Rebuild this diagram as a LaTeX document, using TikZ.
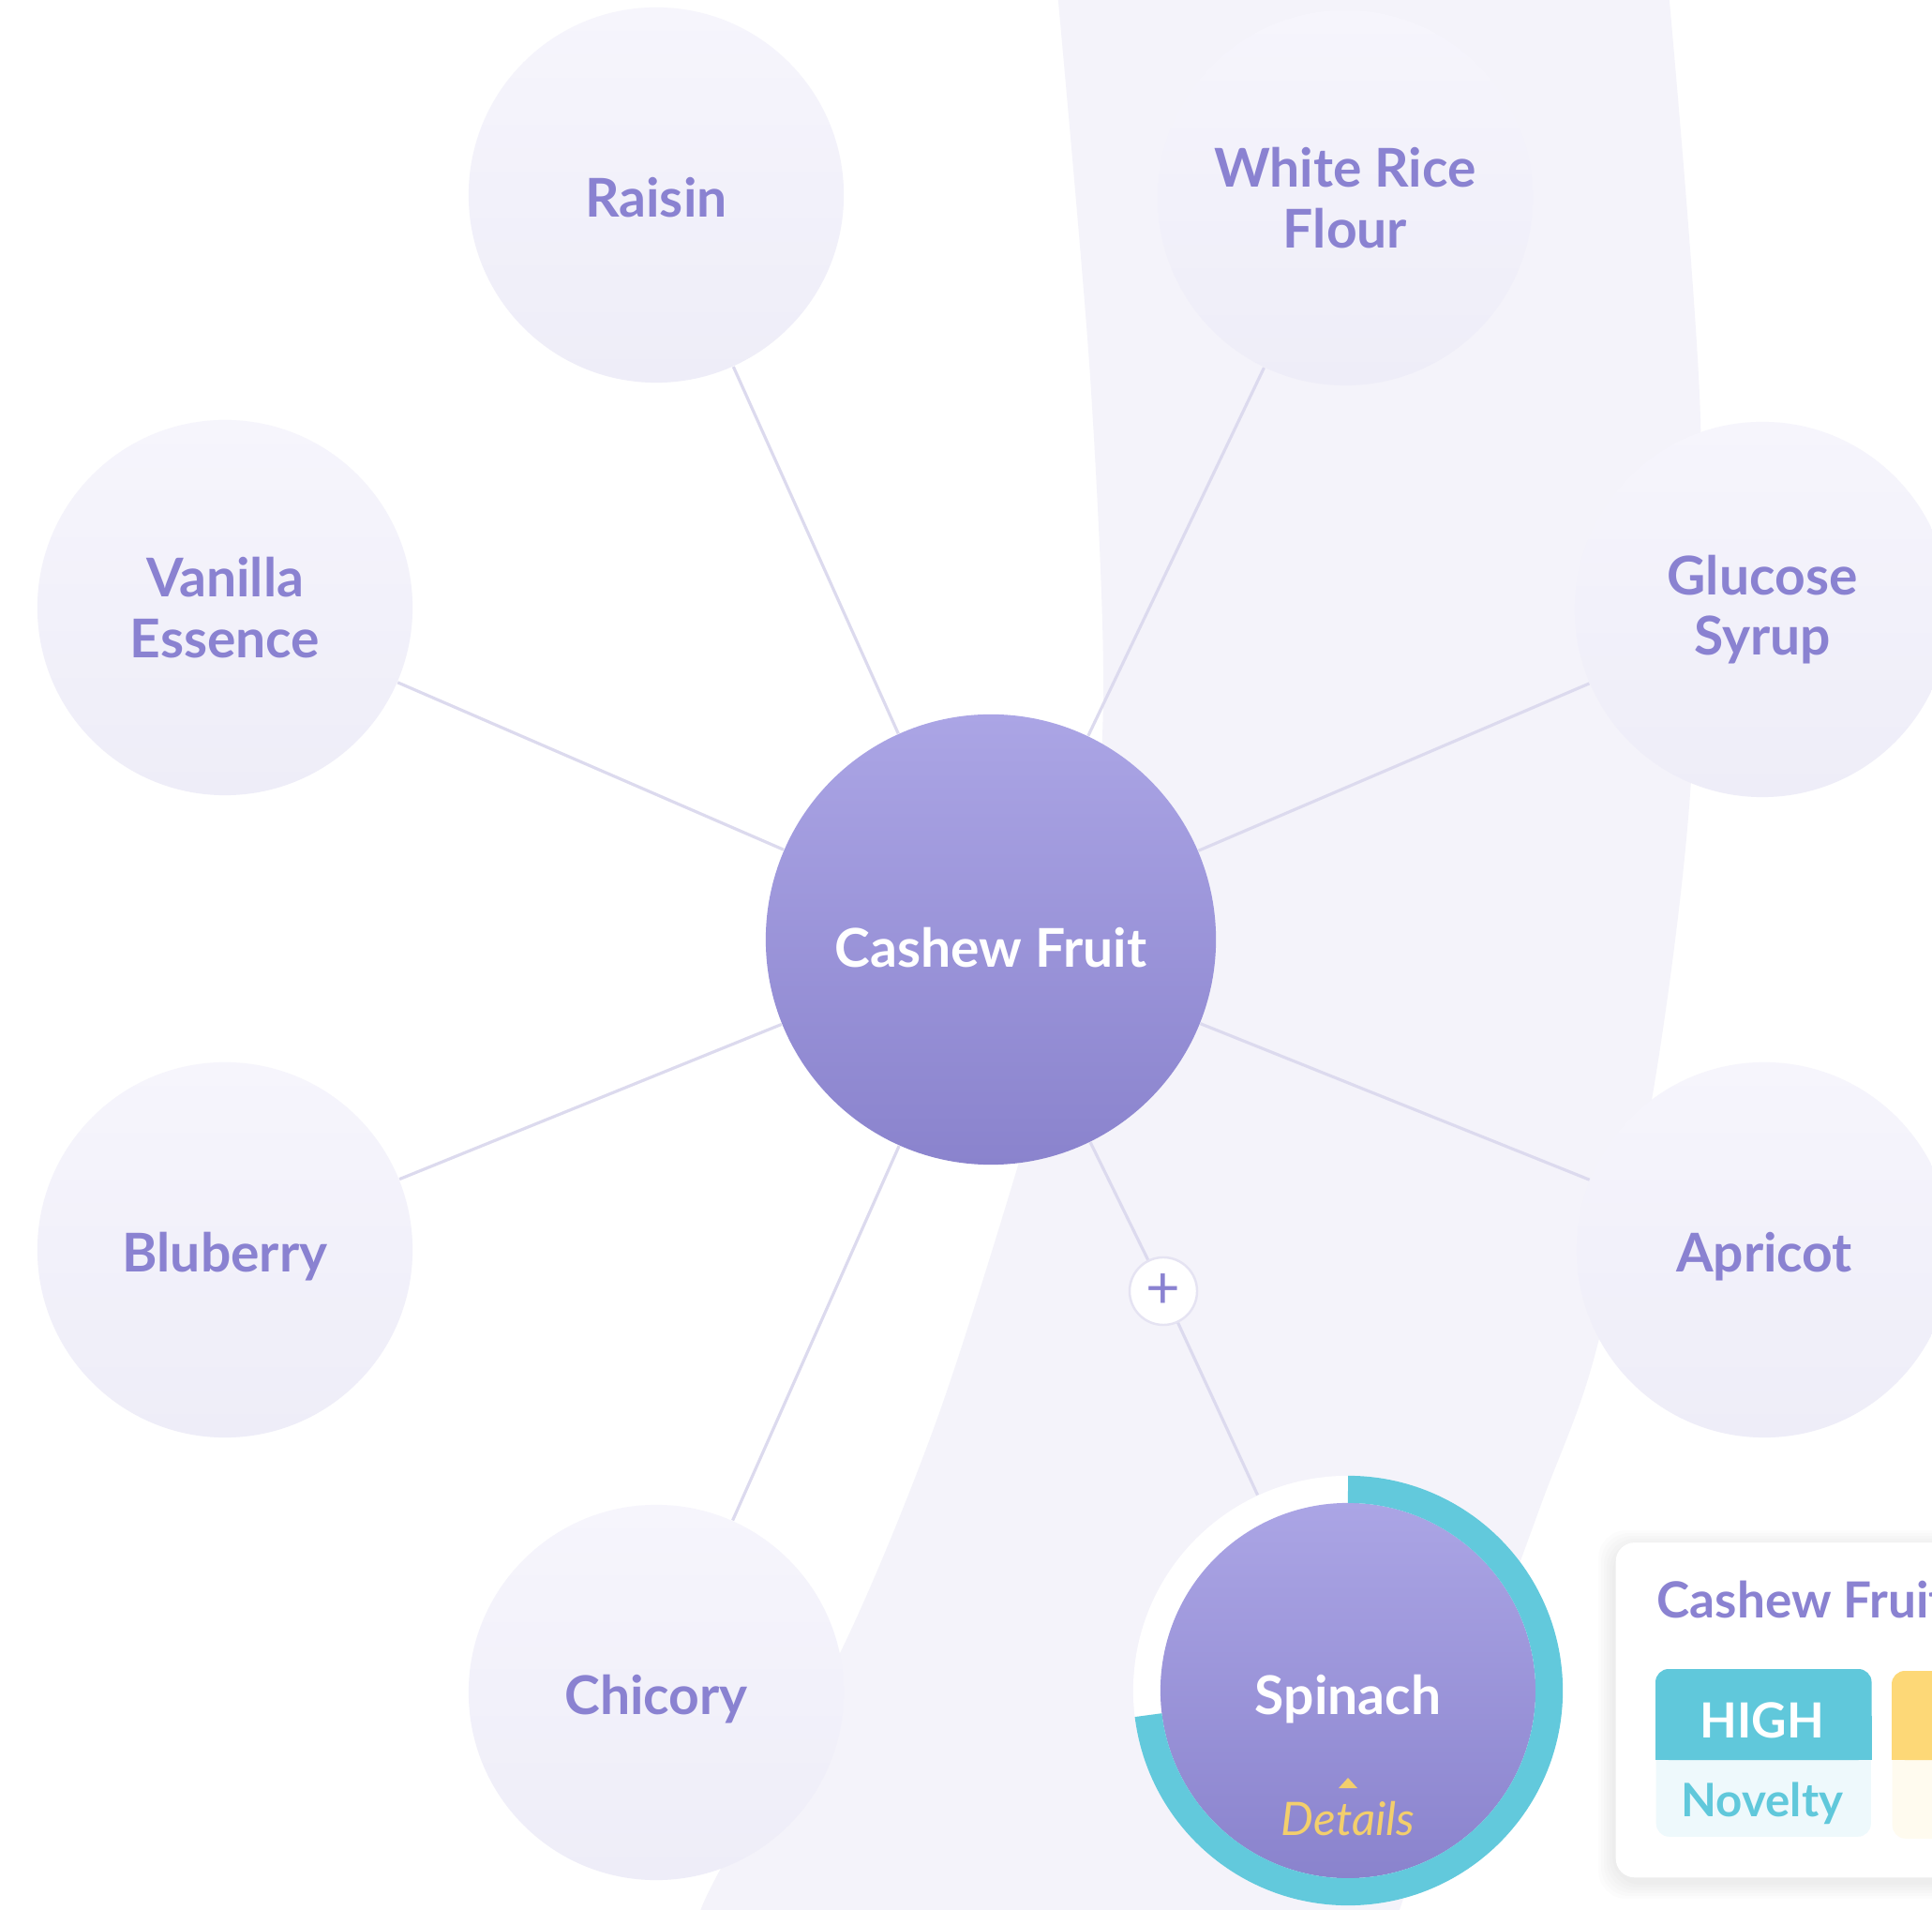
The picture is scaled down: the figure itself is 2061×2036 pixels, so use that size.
\documentclass[tikz,border=0pt]{standalone}
\usepackage{fontspec}
\setmainfont{Lato}
\usepackage{xcolor}
\usetikzlibrary{calc,positioning}
\definecolor{bandtint}{HTML}{F4F3FA}
\definecolor{bubbletop}{HTML}{F6F5FC}
\definecolor{bubblebot}{HTML}{EEEDF8}
\definecolor{inkpurple}{HTML}{8A82D1}
\definecolor{hubtop}{HTML}{ABA5E5}
\definecolor{hubbot}{HTML}{8A83CD}
\definecolor{spokeline}{HTML}{DCDAEE}
\definecolor{ringteal}{HTML}{62C9DC}
\definecolor{detailgold}{HTML}{F3CF6C}
\definecolor{tagteal}{HTML}{60C8DB}
\definecolor{tagtealpale}{HTML}{EEF9FC}
\definecolor{tagyellow}{HTML}{FDD877}
\definecolor{tagyellowpale}{HTML}{FFFBEF}
\definecolor{plusrim}{HTML}{E5E3F2}
\newcommand{\bubblefont}{\fontsize{16.2}{18.3}\selectfont\bfseries}
\tikzset{
  bubble/.style={circle,minimum size=4cm,inner sep=0pt,top color=bubbletop,bottom color=bubblebot,text=inkpurple,font=\bubblefont,align=center},
  oneline/.style={text height=13.4pt,text depth=0pt},
  hub/.style={circle,minimum size=4.8cm,inner sep=0pt,top color=hubtop,bottom color=hubbot,text=white,font=\bubblefont,text height=17pt,text depth=0pt},
  ringdisc/.style={circle,minimum size=4.58cm,inner sep=0pt,fill=white},
  spoke/.style={draw=spokeline,line width=.9pt},
  plusbtn/.style={circle,minimum size=.72cm,inner sep=0pt,fill=white,draw=plusrim,line width=.7pt,text=inkpurple,font=\fontsize{18}{18}\selectfont},
  tagbox/.style={minimum width=2.29cm,minimum height=1.78cm,inner sep=0pt,rounded corners=.14cm},
  tagword/.style={font=\fontsize{14.7}{16}\selectfont\bfseries,anchor=base,inner sep=0pt},
}

\begin{document}
\begin{tikzpicture}[x=.01cm,y=.01cm]
  \clip (0,0) rectangle (2061,2036);
  \fill[white] (0,0) rectangle (2061,2036);
  % curved band behind the map
  \fill[bandtint] plot[smooth] coordinates {(1128,2045) (1163,1634) (1177,1290) (1155,1041) (1086,793) (998,518) (899,279) (765,36) (745,-10)}
    -- plot[smooth] coordinates {(1490,-10) (1560,200) (1643,429) (1700,586) (1763,869) (1803,1190) (1814,1588) (1780,2045)} -- cycle;

  \node[hub] (cashew) at (1057,1034) {Cashew Fruit};
  \node[bubble,oneline] (raisin) at (700,1828) {Raisin};
  \node[bubble] (whiterice) at (1435,1825) {White Rice\\Flour};
  \node[bubble] (vanilla) at (240,1388) {Vanilla\\Essence};
  \node[bubble] (glucose) at (1880,1386) {Glucose\\Syrup};
  \node[bubble,oneline] (bluberry) at (240,703) {Bluberry};
  \node[bubble,oneline] (apricot) at (1882,703) {Apricot};
  \node[bubble,oneline] (chicory) at (700,231) {Chicory};
  \node[plusbtn] (plus) at (1241,659) {+};

  % selected ingredient with its ring
  \node[ringdisc] (spinach) at (1438,233) {};
  \shade[top color=hubtop,bottom color=hubbot] (spinach.center) circle[radius=2cm];
  \draw[ringteal,line width=.29cm] ([shift={(90:2.145cm)}]spinach.center) arc[start angle=90,end angle=-173,radius=2.145cm];
  \node[text=white,font=\bubblefont,anchor=base] (spinachname) at (1438,208) {Spinach};
  \node[text=detailgold,font=\fontsize{14}{16}\selectfont\itshape,anchor=base,inner sep=0pt] (details) at (1438,79) {Details};
  \fill[detailgold] ($(details.north)+(-10,13)$) -- ++(20,0) -- ++(-10,11) -- cycle;

  \foreach \leaf in {raisin,whiterice,vanilla,glucose,bluberry,apricot,chicory}
    \draw[spoke] (cashew) -- (\leaf);
  \draw[spoke] (cashew) -- (plus) -- (spinach);

  % info card, cut by the right edge
  \foreach \k in {1,...,6}
    \fill[black,opacity=.01,rounded corners=.3cm] (1723-3*\k,33-3*\k-4) rectangle (2130+3*\k,390+3*\k-4);
  \node[fill=white,rounded corners=.2cm,minimum width=4.07cm,minimum height=3.57cm,inner sep=0pt,anchor=south west] (infocard) at (1723,33) {};
  \node[text=inkpurple,font=\fontsize{15.1}{18}\selectfont\bfseries,anchor=base west,inner sep=0pt] (cardtitle) at (1767,311) {Cashew Fruit};

  \node[tagbox,fill=tagtealpale,anchor=north west] (noveltytag) at (1766,256) {};
  \fill[tagteal,rounded corners=.14cm] (noveltytag.north west) rectangle ($(noveltytag.north east)+(0,-97)$);
  \fill[tagteal] ($(noveltytag.north west)+(0,-50)$) rectangle ($(noveltytag.north east)+(0,-97)$);
  \node[tagword,text=white] (highword) at (1880,183) {HIGH};
  \node[tagword,text=tagteal,font=\fontsize{14}{16}\selectfont\bfseries] (noveltyword) at (1880,99) {Novelty};

  \node[tagbox,fill=tagyellowpale,anchor=north west] (secondtag) at (2018,254) {};
  \fill[tagyellow,rounded corners=.14cm] (secondtag.north west) rectangle ($(secondtag.north east)+(0,-95)$);
  \fill[tagyellow] ($(secondtag.north west)+(0,-50)$) rectangle ($(secondtag.north east)+(0,-95)$);
\end{tikzpicture}
\end{document}
